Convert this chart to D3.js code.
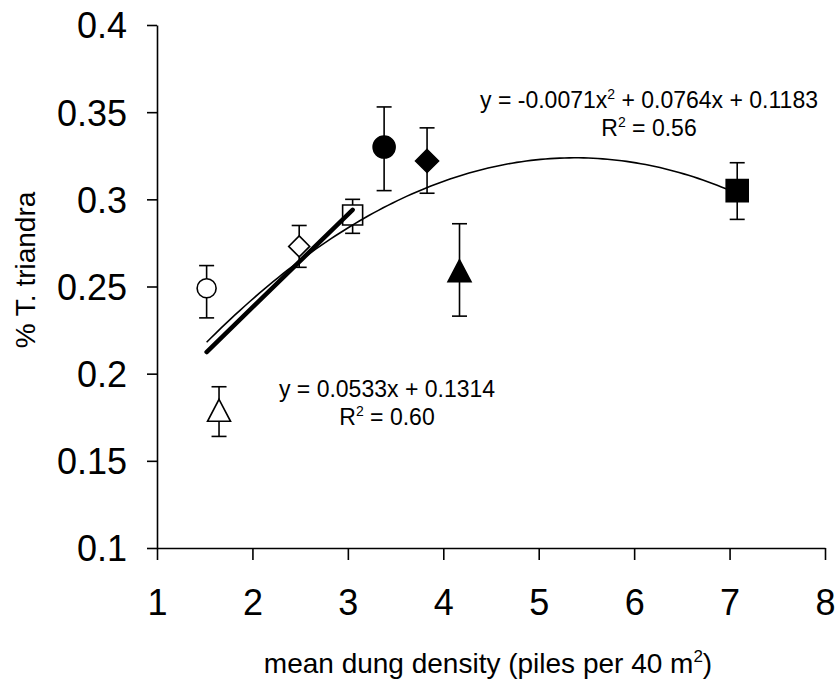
<!DOCTYPE html>
<html>
<head>
<meta charset="utf-8">
<script src="https://d3js.org/d3.v7.min.js"></script>
<style>
  body { margin: 0; background: #fff; }
  text { font-family: "Liberation Sans", Arial, sans-serif; fill: #000; }
</style>
</head>
<body>
<div id="chart"></div>
<script>
// site means of dung density vs % T. triandra, with error bars
var density  = [1.52, 1.65, 2.49, 3.05, 3.38, 3.83, 4.17, 7.08];
var triandra = [0.249, 0.179, 0.273, 0.291, 0.330, 0.322, 0.259, 0.305];
var errHigh  = [0.262, 0.1925, 0.285, 0.300, 0.353, 0.341, 0.286, 0.321];
var errLow   = [0.232, 0.164, 0.261, 0.2805, 0.305, 0.3035, 0.233, 0.2885];
var shapes   = ["circle", "triangle", "diamond", "square", "circle", "diamond", "triangle", "square"];
var filled   = [false, false, false, false, true, true, true, true];

// trendlines (Excel style)
var linCoef  = [0.0533, 0.1314];          // slope, intercept
var linRange = [1.52, 3.05];
var quadCoef = [-0.0071, 0.0764, 0.1183]; // a, b, c
var quadRange = [1.52, 7.08];

var xTicks = [1, 2, 3, 4, 5, 6, 7, 8];
var yTicks = [0.1, 0.15, 0.2, 0.25, 0.3, 0.35, 0.4];

var W = 836, H = 679;
var margin = {top: 25, right: 11, bottom: 131, left: 157};

var svg = d3.select("#chart").append("svg")
    .attr("width", W)
    .attr("height", H);

var x = d3.scaleLinear().domain([1, 8]).range([margin.left, W - margin.right]);
var y = d3.scaleLinear().domain([0.1, 0.4]).range([H - margin.bottom, margin.top]);

// axes
var xAxis = svg.append("g")
    .attr("transform", "translate(0," + y(0.1) + ")")
    .call(d3.axisBottom(x).tickValues(xTicks).tickFormat(d3.format("d")).tickSize(12).tickSizeOuter(0));
xAxis.selectAll("text")
    .attr("dy", null)
    .attr("y", 67)
    .style("font-size", "36px");

var yAxis = svg.append("g")
    .attr("transform", "translate(" + x(1) + ",0)")
    .call(d3.axisLeft(y).tickValues(yTicks).tickFormat(function(d){ return String(+d.toFixed(2)); }).tickSize(10).tickSizeOuter(0));
yAxis.selectAll("text")
    .attr("x", -30)
    .attr("dy", "0.36em")
    .style("font-size", "36px");

svg.selectAll(".domain, .tick line")
    .attr("stroke", "#000")
    .attr("stroke-width", 1.6);

// axis titles
var xt = svg.append("text")
    .attr("x", 488)
    .attr("y", 673)
    .attr("text-anchor", "middle")
    .style("font-size", "28px");
xt.append("tspan").text("mean dung density (piles per 40 m");
xt.append("tspan").attr("dy", -11).style("font-size", "17px").text("2");
xt.append("tspan").attr("dy", 11).text(")");

svg.append("text")
    .attr("transform", "translate(35,270) rotate(-90)")
    .attr("text-anchor", "middle")
    .style("font-size", "28px")
    .text("% T. triandra");

// error bars
var pts = density.map(function(d, i) {
  return {x: d, y: triandra[i], hi: errHigh[i], lo: errLow[i], shape: shapes[i], filled: filled[i]};
});

var bars = svg.append("g").attr("stroke", "#000").attr("stroke-width", 1.6);
bars.selectAll("line.v").data(pts).enter().append("line")
    .attr("x1", function(d){ return x(d.x); })
    .attr("x2", function(d){ return x(d.x); })
    .attr("y1", function(d){ return y(d.hi); })
    .attr("y2", function(d){ return y(d.lo); });
bars.selectAll("line.hi").data(pts).enter().append("line")
    .attr("x1", function(d){ return x(d.x) - 7.5; })
    .attr("x2", function(d){ return x(d.x) + 7.5; })
    .attr("y1", function(d){ return y(d.hi); })
    .attr("y2", function(d){ return y(d.hi); });
bars.selectAll("line.lo").data(pts).enter().append("line")
    .attr("x1", function(d){ return x(d.x) - 7.5; })
    .attr("x2", function(d){ return x(d.x) + 7.5; })
    .attr("y1", function(d){ return y(d.lo); })
    .attr("y2", function(d){ return y(d.lo); });

// marker paths
function markerPath(shape, filledMark) {
  if (shape == "circle") {
    var r = filledMark ? 11 : 9.5;
    return "M" + (-r) + ",0A" + r + "," + r + " 0 1,0 " + r + ",0A" + r + "," + r + " 0 1,0 " + (-r) + ",0Z";
  }
  if (shape == "square") {
    var s = filledMark ? 11 : 10;
    return "M" + (-s) + "," + (-s) + "H" + s + "V" + s + "H" + (-s) + "Z";
  }
  if (shape == "diamond") {
    var dd = filledMark ? 11.5 : 10.5;
    return "M0," + (-dd) + "L" + dd + ",0L0," + dd + "L" + (-dd) + ",0Z";
  }
  // triangle
  var hw = 11.5, hh = 11;
  return "M0," + (-hh) + "L" + hw + "," + hh + "L" + (-hw) + "," + hh + "Z";
}

svg.append("g").selectAll("path").data(pts).enter().append("path")
    .attr("transform", function(d){ return "translate(" + x(d.x) + "," + y(d.y) + ")"; })
    .attr("d", function(d){ return markerPath(d.shape, d.filled); })
    .attr("fill", function(d){ return d.filled ? "#000" : "#fff"; })
    .attr("stroke", "#000")
    .attr("stroke-width", 1.6);

// trendlines
var line = d3.line().x(function(d){ return x(d[0]); }).y(function(d){ return y(d[1]); });

var quadPts = d3.range(quadRange[0], quadRange[1], 0.05).concat([quadRange[1]]).map(function(v) {
  return [v, quadCoef[0] * v * v + quadCoef[1] * v + quadCoef[2]];
});
svg.append("path")
    .attr("d", line(quadPts))
    .attr("fill", "none")
    .attr("stroke", "#000")
    .attr("stroke-width", 1.6);

var linPts = linRange.map(function(v){ return [v, linCoef[0] * v + linCoef[1]]; });
svg.append("path")
    .attr("d", line(linPts))
    .attr("fill", "none")
    .attr("stroke", "#000")
    .attr("stroke-width", 4.5)
    .attr("stroke-linecap", "round");

// equations
function equation(cx, by, parts, r2) {
  var t = svg.append("text")
      .attr("x", cx).attr("y", by)
      .attr("text-anchor", "middle")
      .style("font-size", "23px");
  parts.forEach(function(p) {
    if (p.sup) {
      t.append("tspan").attr("dy", -9).style("font-size", "14px").text(p.sup);
      t.append("tspan").attr("dy", 9).text(p.after);
    } else {
      t.append("tspan").text(p.text);
    }
  });
  var t2 = svg.append("text")
      .attr("x", cx).attr("y", by + 28)
      .attr("text-anchor", "middle")
      .style("font-size", "23px");
  t2.append("tspan").text("R");
  t2.append("tspan").attr("dy", -9).style("font-size", "14px").text("2");
  t2.append("tspan").attr("dy", 9).text(" = " + r2);
}

equation(649, 108, [{text: "y = " + quadCoef[0] + "x"}, {sup: "2", after: " + " + quadCoef[1] + "x + " + quadCoef[2]}], "0.56");
equation(387, 397, [{text: "y = " + linCoef[0] + "x + " + linCoef[1]}], "0.60");
</script>
</body>
</html>
